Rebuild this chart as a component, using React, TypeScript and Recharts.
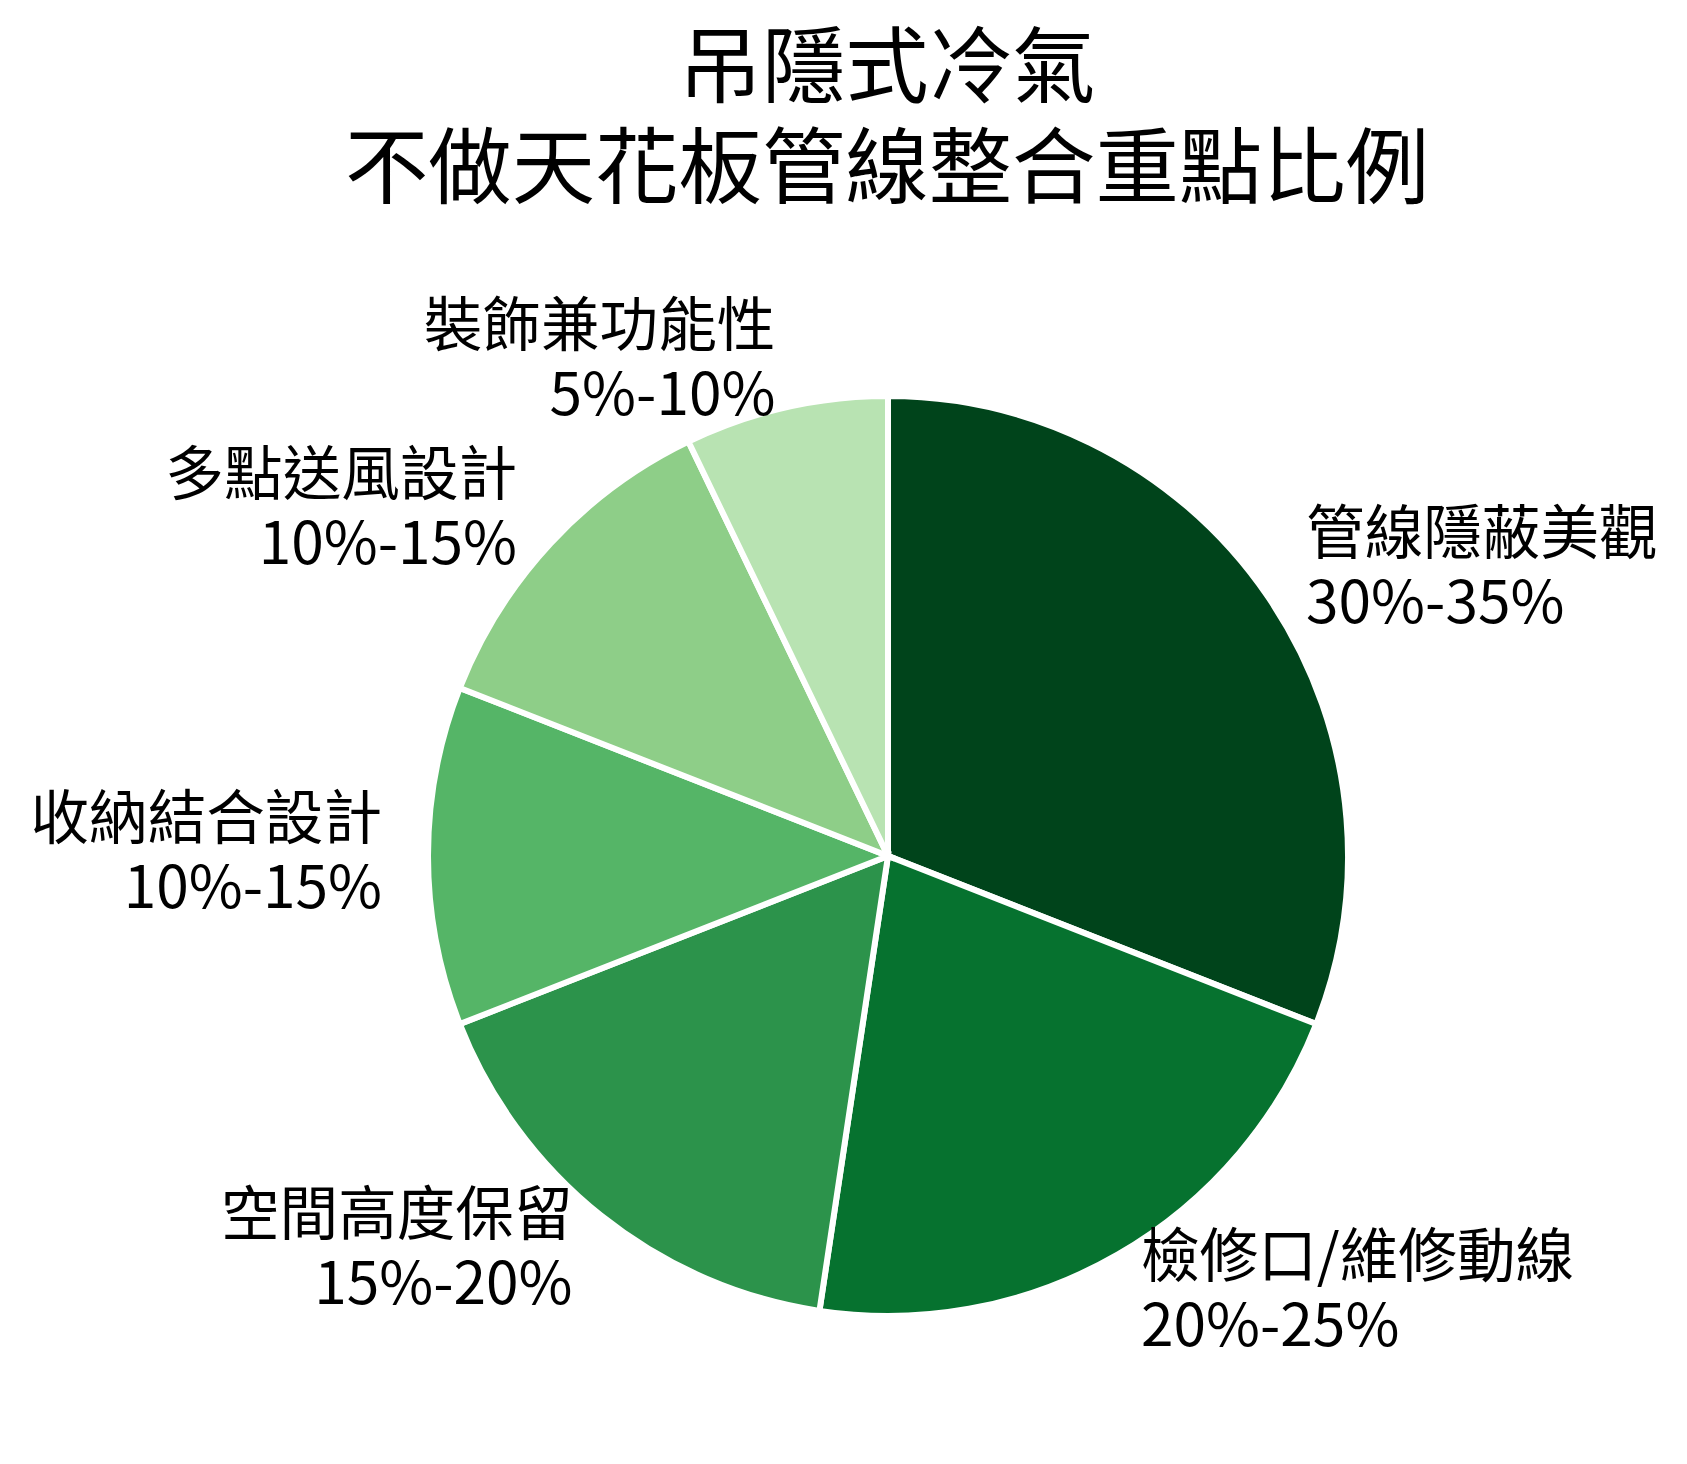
import React from "react";
import { PieChart, Pie, Cell } from "recharts";

// 吊隱式冷氣 不做天花板 — 各整合重點所佔比例（取區間中位數畫扇形）
const categories = ["管線隱蔽美觀", "檢修口/維修動線", "空間高度保留", "收納結合設計", "多點送風設計", "裝飾兼功能性"];
const rangeLabels = ["30%-35%", "20%-25%", "15%-20%", "10%-15%", "10%-15%", "5%-10%"];
const shares = [32.5, 22.5, 17.5, 12.5, 12.5, 7.5];
const colors = ["#00441b", "#06722f", "#2c934b", "#55b567", "#8ece88", "#b8e3b2"];
const titleLines = ["吊隱式冷氣", "不做天花板管線整合重點比例"];

const W = 1687;
const H = 1464;
const FONT = '"Noto Sans CJK TC", "Noto Sans CJK SC", "Noto Sans", sans-serif';
const RADIAN = Math.PI / 180;

const data = categories.map((name, i) => ({
  name,
  range: rangeLabels[i],
  value: shares[i],
}));

const renderLabel = (props: any) => {
  const { cx, cy, midAngle, index } = props;
  const r = 506; // label sits a bit outside the wedge
  const x = cx + r * Math.cos(-midAngle * RADIAN);
  const y = cy + r * Math.sin(-midAngle * RADIAN);
  const anchor = x > cx ? "start" : "end";
  return (
    <text x={x} y={y} textAnchor={anchor} fontFamily={FONT} fontSize={58.6} fill="#000">
      <tspan x={x} y={y - 17}>{categories[index]}</tspan>
      <tspan x={x} y={y + 52}>{rangeLabels[index]}</tspan>
    </text>
  );
};

export default function App() {
  return (
    <div style={{ position: "absolute", left: 0, top: 0, width: W, height: H, background: "#fff" }}>
      <PieChart width={W} height={H} margin={{ top: 0, right: 0, bottom: 0, left: 0 }}>
        <Pie
          data={data}
          dataKey="value"
          nameKey="name"
          cx={888}
          cy={856}
          outerRadius={460}
          startAngle={90}
          endAngle={-270}
          stroke="#fff"
          strokeWidth={6}
          label={renderLabel}
          labelLine={false}
          isAnimationActive={false}
        >
          {data.map((d, i) => (
            <Cell key={d.name} fill={colors[i]} />
          ))}
        </Pie>
      </PieChart>
      <svg width={W} height={240} style={{ position: "absolute", left: 0, top: 0 }}>
        <text textAnchor="middle" fontFamily={FONT} fontSize={83.4} fill="#000">
          <tspan x={887} y={96}>{titleLines[0]}</tspan>
          <tspan x={887} y={197}>{titleLines[1]}</tspan>
        </text>
      </svg>
    </div>
  );
}
